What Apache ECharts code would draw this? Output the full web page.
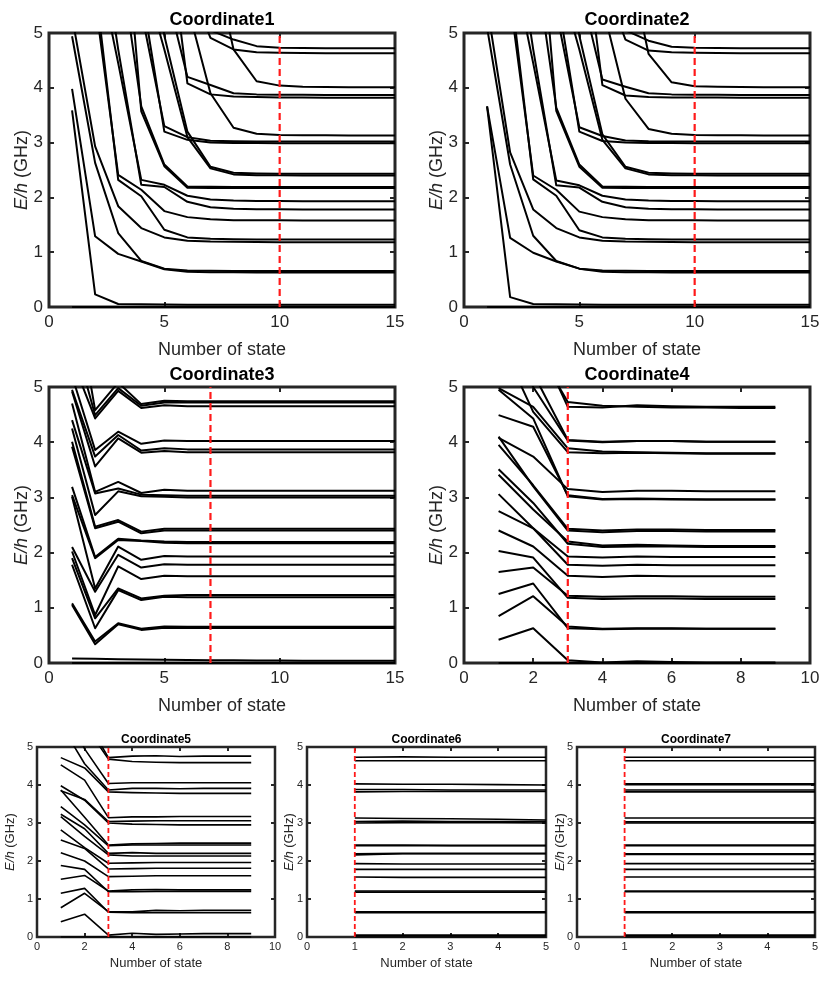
<!DOCTYPE html>
<html><head><meta charset="utf-8">
<script src="https://cdn.jsdelivr.net/npm/echarts@6/dist/echarts.min.js"></script>
<style>html,body{margin:0;padding:0;background:#fff}#c{width:830px;height:990px}</style>
</head><body><div id="c"></div>
<script>
// ---------------- DATA ----------------
const titles = ['Coordinate1','Coordinate2','Coordinate3','Coordinate4','Coordinate5','Coordinate6','Coordinate7'];
const xAxisName = 'Number of state';
const yAxisName = 'E/h (GHz)';
const xMaxes = [15,15,15,10,10,5,5];
const xIntervals = [5,5,5,2,2,1,1];
const yTicks = [0,1,2,3,4,5];
const redLineX = [10,10,7,3,3,1,1];

const coord1 = [
 [0,0,0,0,0,0,0,0,0,0,0,0,0,0,0],
 [3.59,0.23,0.055,0.048,0.045,0.043,0.042,0.042,0.041,0.041,0.041,0.04,0.04,0.04,0.04],
 [3.98,1.29,0.97,0.83,0.69,0.645,0.635,0.632,0.63,0.63,0.63,0.63,0.63,0.63,0.63],
 [4.94,2.63,1.35,0.84,0.70,0.665,0.66,0.658,0.657,0.656,0.655,0.655,0.655,0.655,0.655],
 [5.3,2.93,1.84,1.44,1.27,1.21,1.195,1.19,1.185,1.183,1.182,1.181,1.18,1.18,1.18],
 [9.5,5.9,2.32,2.02,1.41,1.27,1.245,1.235,1.232,1.231,1.23,1.23,1.23,1.23,1.23],
 [9,5.6,2.41,2.14,1.75,1.64,1.60,1.585,1.582,1.581,1.58,1.58,1.58,1.58,1.58],
 [12,7.5,4.7,2.23,2.19,1.92,1.82,1.795,1.786,1.783,1.781,1.78,1.78,1.78,1.78],
 [11,6.5,4.45,2.32,2.23,2.03,1.96,1.943,1.936,1.933,1.931,1.93,1.93,1.93,1.93],
 [14,11,8.5,3.57,2.57,2.175,2.172,2.171,2.17,2.17,2.17,2.17,2.17,2.17,2.17],
 [13,9.5,6.6,3.66,2.60,2.20,2.193,2.191,2.19,2.19,2.19,2.19,2.19,2.19,2.19],
 [15,12,9,6.2,4.7,3.1,2.53,2.42,2.405,2.402,2.401,2.40,2.40,2.40,2.40],
 [15,12.5,9.5,8,4.95,3.2,2.56,2.45,2.437,2.433,2.431,2.43,2.43,2.43,2.43],
 [15,12,9,5.8,3.20,3.05,3.0,2.993,2.991,2.99,2.99,2.99,2.99,2.99,2.99],
 [15,12,8,5.4,3.30,3.10,3.035,3.024,3.021,3.02,3.02,3.02,3.02,3.02,3.02],
 [15,13,11,9,7.5,5.5,3.9,3.27,3.16,3.14,3.135,3.132,3.13,3.13,3.13],
 [15,13,11,9,7.4,4.08,3.88,3.84,3.83,3.823,3.821,3.82,3.82,3.82,3.82],
 [15,13,11,9,5.9,4.2,4.05,3.9,3.88,3.875,3.872,3.87,3.87,3.87,3.87],
 [15,14,13,11,9.5,8,6.6,4.70,4.12,4.04,4.02,4.015,4.012,4.01,4.01],
 [15,14,13,11,9,6.0,4.91,4.70,4.65,4.64,4.635,4.632,4.63,4.63,4.63],
 [15,14,13,12,10,7,5.05,4.88,4.76,4.73,4.725,4.722,4.72,4.72,4.72]
];

const coord2 = [
 [0,0,0,0,0,0,0,0,0,0,0,0,0,0,0],
 [3.66,0.18,0.055,0.048,0.045,0.043,0.042,0.042,0.041,0.041,0.041,0.04,0.04,0.04,0.04],
 [3.66,1.26,0.99,0.83,0.70,0.645,0.635,0.632,0.63,0.63,0.63,0.63,0.63,0.63,0.63],
 [5.1,2.6,1.30,0.84,0.70,0.665,0.66,0.658,0.657,0.656,0.655,0.655,0.655,0.655,0.655],
 [5.5,2.82,1.78,1.44,1.27,1.21,1.195,1.19,1.185,1.183,1.182,1.181,1.18,1.18,1.18],
 [9.5,5.9,2.33,2.03,1.40,1.27,1.245,1.235,1.232,1.231,1.23,1.23,1.23,1.23,1.23],
 [9,5.6,2.40,2.14,1.74,1.64,1.60,1.585,1.582,1.581,1.58,1.58,1.58,1.58,1.58],
 [12,7.5,4.7,2.22,2.18,1.92,1.82,1.795,1.786,1.783,1.781,1.78,1.78,1.78,1.78],
 [11,6.5,4.45,2.31,2.22,2.03,1.96,1.943,1.936,1.933,1.931,1.93,1.93,1.93,1.93],
 [14,11,8.5,3.58,2.56,2.175,2.172,2.171,2.17,2.17,2.17,2.17,2.17,2.17,2.17],
 [13,9.5,6.6,3.64,2.60,2.20,2.193,2.191,2.19,2.19,2.19,2.19,2.19,2.19,2.19],
 [15,12,9,6.2,4.7,3.05,2.53,2.42,2.405,2.402,2.401,2.40,2.40,2.40,2.40],
 [15,12.5,9.5,8,4.95,3.15,2.56,2.45,2.437,2.433,2.431,2.43,2.43,2.43,2.43],
 [15,12,9,5.8,3.20,3.03,3.0,2.993,2.991,2.99,2.99,2.99,2.99,2.99,2.99],
 [15,12,8,5.4,3.28,3.12,3.04,3.024,3.021,3.02,3.02,3.02,3.02,3.02,3.02],
 [15,13,11,9,7.5,5.5,3.8,3.25,3.16,3.14,3.135,3.132,3.13,3.13,3.13],
 [15,13,11,9,7.4,4.05,3.86,3.83,3.825,3.823,3.821,3.82,3.82,3.82,3.82],
 [15,13,11,9,5.9,4.15,4.02,3.9,3.88,3.875,3.872,3.87,3.87,3.87,3.87],
 [15,14,13,11,9.5,8,6.6,4.62,4.1,4.03,4.02,4.015,4.012,4.01,4.01],
 [15,14,13,11,9,6.0,4.88,4.68,4.65,4.64,4.635,4.632,4.63,4.63,4.63],
 [15,14,13,12,10,7,5.05,4.86,4.75,4.73,4.725,4.722,4.72,4.72,4.72]
];

const coord3 = [
 [0,0,0,0,0,0,0,0,0,0,0,0,0,0,0],
 [0.08,0.075,0.07,0.065,0.06,0.055,0.05,0.05,0.045,0.045,0.04,0.04,0.04,0.04,0.04],
 [1.05,0.34,0.70,0.60,0.64,0.635,0.635,0.635,0.635,0.635,0.635,0.635,0.635,0.635,0.635],
 [1.08,0.39,0.72,0.62,0.66,0.655,0.655,0.655,0.655,0.655,0.655,0.655,0.655,0.655,0.655],
 [1.78,0.63,1.32,1.14,1.20,1.19,1.19,1.19,1.19,1.19,1.19,1.19,1.19,1.19,1.19],
 [1.90,0.81,1.35,1.17,1.22,1.23,1.23,1.23,1.23,1.23,1.23,1.23,1.23,1.23,1.23],
 [2.02,0.87,1.75,1.52,1.58,1.57,1.57,1.57,1.57,1.57,1.57,1.57,1.57,1.57,1.57],
 [2.10,1.29,1.96,1.73,1.79,1.78,1.78,1.78,1.78,1.78,1.78,1.78,1.78,1.78,1.78],
 [3.01,1.35,2.11,1.87,1.94,1.93,1.93,1.93,1.93,1.93,1.93,1.93,1.93,1.93,1.93],
 [3.04,1.90,2.23,2.21,2.18,2.17,2.17,2.17,2.17,2.17,2.17,2.17,2.17,2.17,2.17],
 [3.19,1.92,2.25,2.22,2.20,2.19,2.19,2.19,2.19,2.19,2.19,2.19,2.19,2.19,2.19],
 [3.92,2.44,2.56,2.35,2.40,2.40,2.40,2.40,2.40,2.40,2.40,2.40,2.40,2.40,2.40],
 [4.01,2.47,2.59,2.38,2.43,2.43,2.43,2.43,2.43,2.43,2.43,2.43,2.43,2.43,2.43],
 [4.25,2.68,3.11,3.02,3.01,3.00,3.00,3.00,3.00,3.00,3.00,3.00,3.00,3.00,3.00],
 [4.40,3.07,3.16,3.05,3.04,3.03,3.03,3.03,3.03,3.03,3.03,3.03,3.03,3.03,3.03],
 [4.70,3.10,3.28,3.08,3.14,3.12,3.12,3.12,3.12,3.12,3.12,3.12,3.12,3.12,3.12],
 [4.92,3.56,4.07,3.81,3.84,3.82,3.82,3.82,3.82,3.82,3.82,3.82,3.82,3.82,3.82],
 [4.95,3.74,4.13,3.85,3.89,3.87,3.87,3.87,3.87,3.87,3.87,3.87,3.87,3.87,3.87],
 [5.2,3.86,4.19,3.97,4.03,4.02,4.02,4.02,4.02,4.02,4.02,4.02,4.02,4.02,4.02],
 [5.5,4.43,4.93,4.62,4.67,4.65,4.65,4.65,4.65,4.65,4.65,4.65,4.65,4.65,4.65],
 [6.0,4.49,4.98,4.66,4.72,4.72,4.72,4.72,4.72,4.72,4.72,4.72,4.72,4.72,4.72],
 [7.0,4.58,5.08,4.69,4.75,4.74,4.74,4.74,4.74,4.74,4.74,4.74,4.74,4.74,4.74]
];

const coord4 = [
 [0,0,0,0,0,0,0,0,0],
 [0.42,0.63,0.05,0.01,0.03,0.02,0.01,0.01,0.01],
 [0.85,1.21,0.66,0.62,0.63,0.63,0.62,0.62,0.62],
 [1.25,1.44,0.63,0.61,0.62,0.62,0.62,0.62,0.62],
 [1.65,1.73,1.22,1.20,1.21,1.21,1.20,1.20,1.20],
 [2.03,1.91,1.18,1.16,1.17,1.17,1.16,1.16,1.16],
 [2.40,2.11,1.58,1.56,1.58,1.57,1.57,1.57,1.57],
 [2.75,2.44,1.78,1.76,1.78,1.77,1.77,1.77,1.77],
 [3.06,2.44,1.93,1.91,1.93,1.92,1.92,1.92,1.92],
 [3.41,2.78,2.20,2.13,2.14,2.13,2.12,2.12,2.12],
 [3.51,2.90,2.16,2.10,2.11,2.11,2.10,2.10,2.10],
 [3.95,3.22,2.43,2.40,2.42,2.42,2.41,2.41,2.41],
 [4.10,3.20,2.40,2.37,2.39,2.39,2.38,2.38,2.38],
 [4.08,3.74,3.15,3.10,3.12,3.12,3.11,3.11,3.11],
 [4.49,4.28,3.04,2.97,2.98,2.97,2.96,2.96,2.96],
 [4.95,4.43,3.02,2.96,2.97,2.96,2.96,2.96,2.96],
 [4.98,4.64,3.89,3.83,3.82,3.81,3.80,3.80,3.80],
 [5.9,4.55,3.82,3.80,3.81,3.80,3.79,3.79,3.79],
 [6.5,5.0,4.03,4.00,4.02,4.02,4.01,4.01,4.01],
 [6.8,5.25,4.04,4.01,4.02,4.02,4.01,4.01,4.01],
 [8,5.8,4.73,4.66,4.64,4.63,4.63,4.62,4.62],
 [8.5,6.0,4.64,4.63,4.67,4.65,4.64,4.64,4.64]
];

const coord5 = [
 [0,0,0,0,0,0,0,0,0],
 [0.40,0.60,0.05,0.10,0.07,0.08,0.09,0.09,0.09],
 [0.77,1.15,0.67,0.66,0.70,0.69,0.70,0.70,0.70],
 [1.15,1.28,0.65,0.64,0.64,0.64,0.64,0.64,0.64],
 [1.52,1.62,1.21,1.24,1.25,1.24,1.24,1.24,1.24],
 [1.88,1.78,1.19,1.19,1.20,1.20,1.20,1.20,1.20],
 [2.22,2.00,1.59,1.60,1.61,1.61,1.61,1.61,1.61],
 [2.55,2.33,1.79,1.80,1.81,1.81,1.81,1.81,1.81],
 [2.82,2.35,1.94,1.95,1.96,1.96,1.96,1.96,1.96],
 [3.17,2.65,2.16,2.13,2.13,2.13,2.13,2.13,2.13],
 [3.23,2.85,2.20,2.22,2.20,2.20,2.20,2.20,2.20],
 [3.43,2.95,2.40,2.42,2.42,2.42,2.42,2.42,2.42],
 [3.87,3.15,2.42,2.45,2.46,2.47,2.47,2.47,2.47],
 [3.98,3.60,3.00,2.97,2.96,2.95,2.95,2.95,2.95],
 [3.85,3.62,3.04,3.05,3.06,3.06,3.06,3.06,3.06],
 [4.53,4.13,3.14,3.16,3.16,3.17,3.17,3.17,3.17],
 [4.72,4.45,3.82,3.80,3.79,3.78,3.78,3.78,3.78],
 [5.6,4.56,3.87,3.91,3.91,3.90,3.91,3.91,3.91],
 [6.3,4.95,4.04,4.06,4.06,4.06,4.06,4.06,4.06],
 [7.0,5.6,4.68,4.62,4.60,4.59,4.59,4.59,4.59],
 [7.5,5.8,4.72,4.76,4.77,4.75,4.76,4.76,4.76]
];

const coord6 = [
 [0,0,0,0,0],
 [0.05,0.05,0.05,0.05,0.05],
 [0.64,0.64,0.64,0.64,0.64],
 [0.66,0.66,0.66,0.66,0.66],
 [1.18,1.18,1.18,1.18,1.18],
 [1.21,1.21,1.21,1.21,1.21],
 [1.58,1.57,1.57,1.57,1.57],
 [1.78,1.78,1.78,1.78,1.78],
 [1.93,1.92,1.92,1.92,1.92],
 [2.16,2.19,2.19,2.19,2.19],
 [2.19,2.20,2.20,2.20,2.20],
 [2.40,2.40,2.40,2.40,2.40],
 [2.42,2.42,2.41,2.41,2.41],
 [3.00,3.01,3.01,3.01,3.00],
 [3.04,3.05,3.04,3.04,3.04],
 [3.13,3.12,3.11,3.10,3.08],
 [3.82,3.83,3.83,3.83,3.83],
 [3.88,3.88,3.87,3.87,3.87],
 [4.03,4.02,4.02,4.01,4.00],
 [4.64,4.64,4.64,4.64,4.64],
 [4.73,4.74,4.73,4.73,4.73]
];

const coord7 = [
 [0,0,0,0,0],
 [0.05,0.05,0.05,0.05,0.05],
 [0.64,0.64,0.64,0.64,0.64],
 [0.66,0.66,0.66,0.66,0.66],
 [1.19,1.19,1.19,1.19,1.19],
 [1.21,1.21,1.21,1.21,1.21],
 [1.58,1.58,1.58,1.58,1.58],
 [1.78,1.78,1.78,1.78,1.78],
 [1.93,1.93,1.93,1.93,1.93],
 [2.17,2.17,2.17,2.17,2.17],
 [2.19,2.19,2.19,2.19,2.19],
 [2.40,2.40,2.40,2.40,2.40],
 [2.42,2.42,2.42,2.42,2.42],
 [3.00,3.00,3.00,3.00,3.00],
 [3.03,3.03,3.03,3.03,3.03],
 [3.13,3.13,3.13,3.13,3.13],
 [3.82,3.82,3.82,3.82,3.82],
 [3.87,3.87,3.87,3.87,3.87],
 [4.01,4.01,4.01,4.01,4.01],
 [4.03,4.03,4.03,4.03,4.03],
 [4.64,4.64,4.64,4.64,4.64],
 [4.73,4.73,4.73,4.73,4.73]
];

const panelLines = [coord1, coord2, coord3, coord4, coord5, coord6, coord7];

// ---------------- LAYOUT / STYLE ----------------
const FONT = '"Liberation Sans", Arial, Helvetica, sans-serif';
const INK = '#262626';
const layout = [
 {left:49, top:33, width:346, height:274, big:true, yg:18, ty:20.5},
 {left:464, top:33, width:346, height:274, big:true, yg:18, ty:20.5},
 {left:49, top:387, width:346, height:276, big:true, yg:18, ty:375},
 {left:464, top:387, width:346, height:276, big:true, yg:18, ty:375},
 {left:37, top:747, width:238, height:190, big:false, yg:20, ty:740},
 {left:307, top:747, width:239, height:190, big:false, yg:11, ty:740},
 {left:577, top:747, width:238, height:190, big:false, yg:10.5, ty:740}
];

const grids = [], xAxes = [], yAxes = [], series = [], graphics = [];
layout.forEach((L, p) => {
  const tick = L.big ? 17 : 11;
  const nameSize = L.big ? 18 : 13;
  const titleSize = L.big ? 18 : 12;
  const lw = L.big ? 2 : 1.6;
  grids.push({left:L.left, top:L.top, width:L.width, height:L.height, show:true,
    borderColor:INK, borderWidth:L.big ? 3 : 2.5, backgroundColor:'#fff', outerBoundsMode:'none'});
  const tickStyle = {show:true, inside:true, length:L.big ? 5 : 4, lineStyle:{color:INK, width:2}};
  const hiddenLine = {show:false, onZero:false};
  xAxes.push({gridIndex:p, type:'value', min:0, max:xMaxes[p], interval:xIntervals[p], position:'bottom',
    axisLine:hiddenLine, axisTick:tickStyle, splitLine:{show:false},
    axisLabel:{color:INK, fontSize:tick, fontFamily:FONT, margin:L.big ? 7 : 4},
    name:xAxisName, nameLocation:'middle', nameGap:L.big ? 34 : 20, nameMoveOverlap:false,
    nameTextStyle:{color:INK, fontSize:nameSize, fontFamily:FONT}});
  xAxes.push({gridIndex:p, type:'value', min:0, max:xMaxes[p], interval:xIntervals[p], position:'top',
    axisLine:hiddenLine, axisTick:tickStyle, splitLine:{show:false}, axisLabel:{show:false}});
  const parts = yAxisName.split(' ');
  yAxes.push({gridIndex:p, type:'value', min:yTicks[0], max:yTicks[yTicks.length-1], interval:1, position:'left',
    axisLine:hiddenLine, axisTick:tickStyle, splitLine:{show:false},
    axisLabel:{color:INK, fontSize:tick, fontFamily:FONT, margin:L.big ? 6 : 4},
    name:'{i|' + parts[0] + '} ' + parts[1], nameLocation:'middle', nameGap:L.yg, nameMoveOverlap:false,
    nameTextStyle:{color:INK, fontSize:nameSize, fontFamily:FONT,
      rich:{i:{fontStyle:'italic', color:INK, fontSize:nameSize, fontFamily:FONT}}}});
  yAxes.push({gridIndex:p, type:'value', min:yTicks[0], max:yTicks[yTicks.length-1], interval:1, position:'right',
    axisLine:hiddenLine, axisTick:tickStyle, splitLine:{show:false}, axisLabel:{show:false}});
  panelLines[p].forEach(arr => {
    series.push({type:'line', xAxisIndex:2*p, yAxisIndex:2*p, data:arr.map((v,i)=>[i+1, v]),
      symbol:'none', showSymbol:false, clip:true, silent:true, z:3,
      lineStyle:{color:'#000', width:lw, join:'round'}});
  });
  series.push({type:'line', xAxisIndex:2*p, yAxisIndex:2*p,
    data:[[redLineX[p], yTicks[0]], [redLineX[p], yTicks[yTicks.length-1]]],
    symbol:'none', showSymbol:false, clip:true, silent:true, z:4,
    lineStyle:{color:'#ff1a1a', width:L.big ? 2.2 : 1.8, type:L.big ? [7,4] : [5,3]}});
  graphics.push({type:'text', x:L.left + L.width/2, y:L.ty, z:10,
    style:{text:titles[p], fill:'#000', font:'bold ' + titleSize + 'px ' + FONT, align:'center', verticalAlign:'middle'}});
});

const chart = echarts.init(document.getElementById('c'));
chart.setOption({
  animation:false,
  backgroundColor:'#fff',
  grid:grids, xAxis:xAxes, yAxis:yAxes, series:series, graphic:graphics
});
</script></body></html>
